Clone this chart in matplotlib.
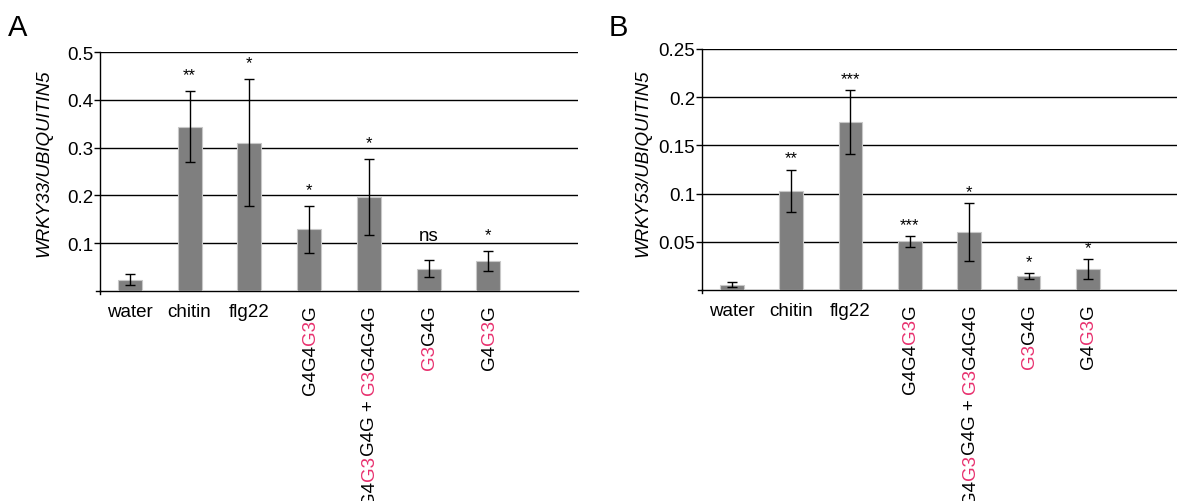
import matplotlib
matplotlib.use('Agg')
import matplotlib.pyplot as plt
from matplotlib.transforms import offset_copy
import numpy as np

plt.rcParams['font.family'] = ['Liberation Sans', 'DejaVu Sans']

PINK = '#e8306e'
BAR = '#7f7f7f'

# category labels as (text, colour) pieces; None = black
labels = [
    [('water', None)],
    [('chitin', None)],
    [('flg22', None)],
    [('G4G4', None), ('G3', PINK), ('G', None)],
    [('G4', None), ('G3', PINK), ('G4G + ', None), ('G3', PINK), ('G4G4G', None)],
    [('G3', PINK), ('G4G', None)],
    [('G4', None), ('G3', PINK), ('G', None)],
]
rotated = [False, False, False, True, True, True, True]

# panel A: WRKY33
a_vals = [0.024, 0.344, 0.310, 0.129, 0.197, 0.047, 0.063]
a_err = [0.011, 0.075, 0.133, 0.049, 0.079, 0.017, 0.021]
a_sig = ['', '**', '*', '*', '*', 'ns', '*']
a_ticks = [0.1, 0.2, 0.3, 0.4, 0.5]

# panel B: WRKY53
b_vals = [0.0055, 0.103, 0.174, 0.0504, 0.0605, 0.0144, 0.0217]
b_err = [0.0027, 0.022, 0.033, 0.006, 0.030, 0.0035, 0.0105]
b_sig = ['', '**', '***', '***', '*', '*', '*']
b_ticks = [0.05, 0.1, 0.15, 0.2, 0.25]

W, H = 1177, 502
fig = plt.figure(figsize=(W / 100, H / 100), dpi=100)


def panel(rect, vals, err, sig, ticks, ymax, ylab, ylab_x, letter, letter_x, star_off):
    ax = fig.add_axes(rect)
    x = np.arange(len(vals))
    ax.bar(x, vals, width=0.4, color=BAR, edgecolor='#c8c8c8', linewidth=0.8, zorder=3)
    ax.errorbar(x, vals, yerr=err, fmt='none', ecolor='black', elinewidth=1,
                capsize=3.5, capthick=1, zorder=4)
    ax.set_xlim(-0.5, 7.5)
    ax.set_ylim(0, ymax)
    ax.set_yticks(ticks)
    ax.set_yticklabels([f'{t:g}' for t in ticks], fontsize=13.5)
    ax.set_xticks([])
    ax.tick_params(axis='y', direction='out', length=4, width=1, pad=1)
    for t in ticks:
        ax.axhline(t, color='black', lw=1, zorder=1)
    for s in ['top', 'right']:
        ax.spines[s].set_visible(False)
    ax.spines['left'].set_linewidth(1)
    ax.spines['bottom'].set_linewidth(1)
    # small crossing at origin
    ax.plot([-0.5, -0.5], [0, -0.012 * ymax], color='black', lw=1, clip_on=False)
    ax.plot([-0.5, -0.57], [0, 0], color='black', lw=1, clip_on=False)

    # significance marks
    for i, s in enumerate(sig):
        if not s:
            continue
        off = 20 if s == 'ns' else star_off
        fs = 13.5 if s == 'ns' else 12
        tr = offset_copy(ax.transData, fig=fig, y=off, units='dots')
        ax.text(i, vals[i] + err[i], s, transform=tr, ha='center', va='baseline',
                fontsize=fs, zorder=5)

    # category labels, multi-coloured for the rotated ones
    renderer = fig.canvas.get_renderer()
    xtr = ax.get_xaxis_transform()
    for i, pieces in enumerate(labels):
        if not rotated[i]:
            tr = offset_copy(xtr, fig=fig, y=-12, units='dots')
            ax.text(i, 0, pieces[0][0], transform=tr, ha='center', va='top', fontsize=13.5)
            continue
        down = 13
        for txt, col in reversed(pieces):
            tr = offset_copy(xtr, fig=fig, x=1, y=-down, units='dots')
            t = ax.text(i, 0, txt, transform=tr, rotation=90, rotation_mode='anchor',
                        ha='right', va='center', fontsize=13.5,
                        color=col or 'black', clip_on=False)
            bb = t.get_window_extent(renderer)
            down += bb.height
    fig.text(ylab_x / W, 0.675, ylab, rotation=90, ha='center', va='center',
             fontsize=13.5, style='italic')
    fig.text(letter_x / W, 1 - 28 / H, letter, fontsize=21, ha='left', va='center')
    return ax


panel([100 / W, 1 - 292 / H, 478 / W, 239 / H], a_vals, a_err, a_sig, a_ticks, 0.5,
      'WRKY33/UBIQUITIN5', 44, 'A', 8, 12)
panel([702 / W, 1 - 291 / H, 475 / W, 241 / H], b_vals, b_err, b_sig, b_ticks, 0.25,
      'WRKY53/UBIQUITIN5', 643, 'B', 609, 7)

fig.savefig('out.png', dpi=100)
